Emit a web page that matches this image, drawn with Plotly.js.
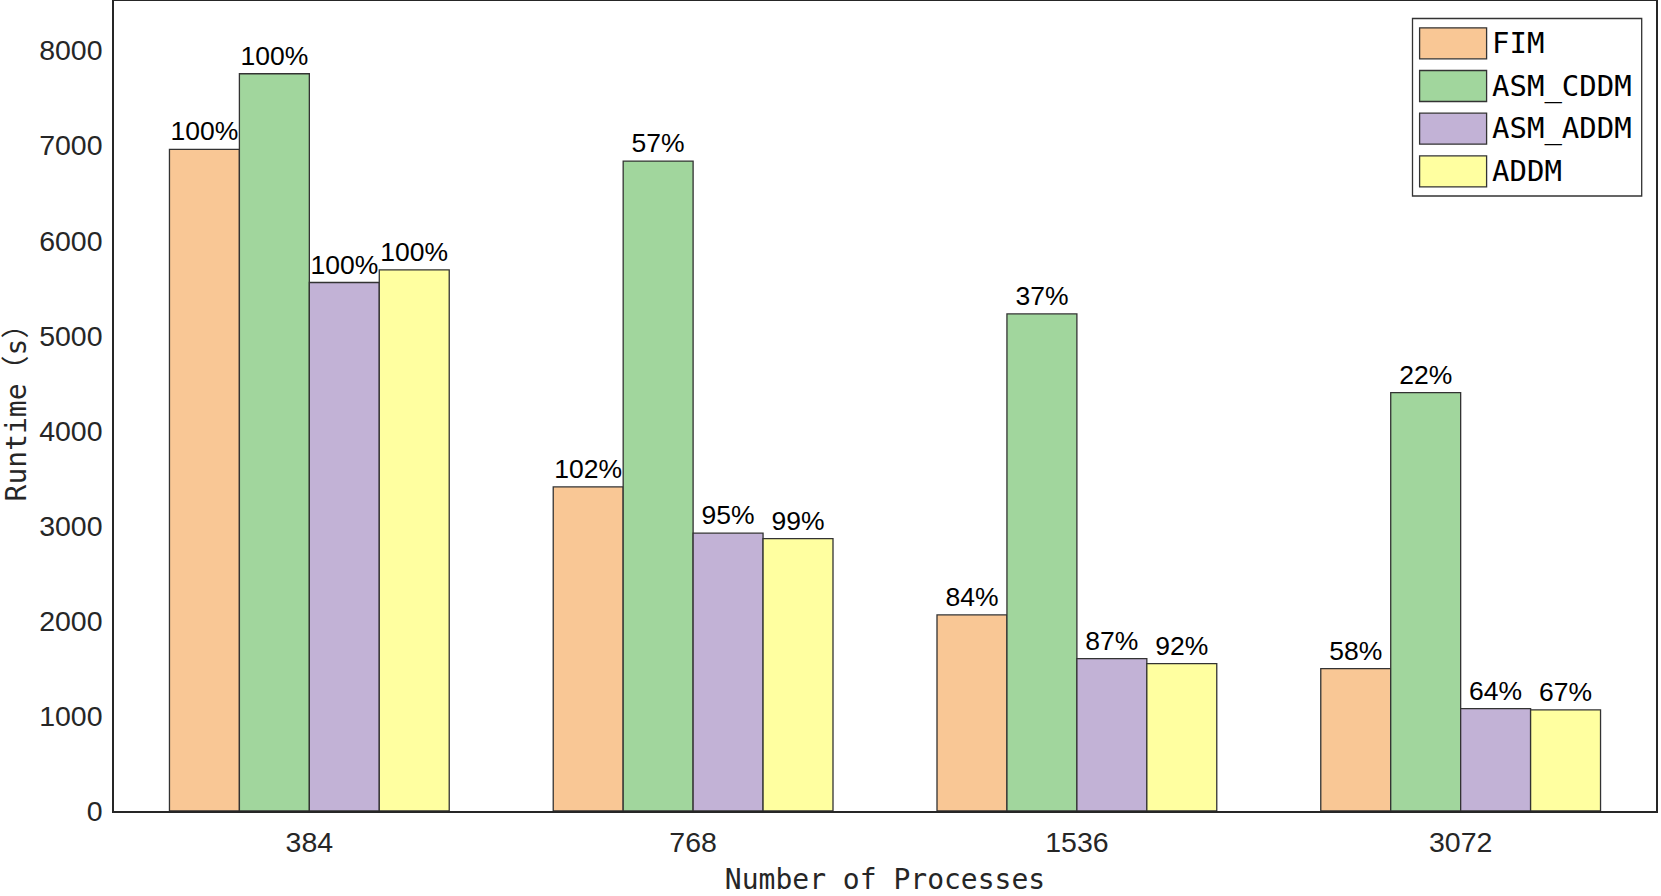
<!DOCTYPE html>
<html>
<head>
<meta charset="utf-8">
<script src="https://cdn.plot.ly/plotly-3.0.1.min.js"></script>
<style>html,body{margin:0;padding:0;background:#fff;}#chart{width:1661px;height:896px;}</style>
</head>
<body>
<div id="chart"></div>
<script>
const categories = ['384', '768', '1536', '3072'];
const seriesNames = ['FIM', 'ASM_CDDM', 'ASM_ADDM', 'ADDM'];
const fim = [6960, 3409, 2062, 1497];
const asmCddm = [7755, 6836, 5229, 4401];
const asmAddm = [5559, 2922, 1602, 1076];
const addm = [5692, 2865, 1550, 1063];
const fimLabels = ['100%', '102%', '84%', '58%'];
const asmCddmLabels = ['100%', '57%', '37%', '22%'];
const asmAddmLabels = ['100%', '95%', '87%', '64%'];
const addmLabels = ['100%', '99%', '92%', '67%'];
const seriesColors = ['#F9C795', '#A1D69D', '#C2B2D6', '#FFFFA0'];
const yTickVals = [0, 1000, 2000, 3000, 4000, 5000, 6000, 7000, 8000];

const values = [fim, asmCddm, asmAddm, addm];
const labels = [fimLabels, asmCddmLabels, asmAddmLabels, addmLabels];

const W = 1661, H = 896;
const M = {l: 114, r: 5, t: 1, b: 85};
const PW = W - M.l - M.r, PH = H - M.t - M.b;
const px2x = X => (X - M.l) / PW;
const px2y = Y => (H - M.b - Y) / PH;

const traces = seriesNames.map((name, i) => ({
  type: 'bar',
  name: name,
  x: categories,
  y: values[i],
  text: labels[i],
  textposition: 'outside',
  constraintext: 'none',
  cliponaxis: false,
  textfont: {family: 'Liberation Sans, Arial, sans-serif', size: 26.5, color: '#000'},
  marker: {color: seriesColors[i], line: {color: '#333333', width: 1.3}},
  hoverinfo: 'x+y+name'
}));

const shapes = [];
const annotations = [];
// legend box
shapes.push({type: 'rect', xref: 'paper', yref: 'paper',
  x0: px2x(1412.5), x1: px2x(1641.7), y0: px2y(196), y1: px2y(18.5),
  line: {color: '#333333', width: 1.3}, fillcolor: '#ffffff', layer: 'above'});
seriesNames.forEach((name, i) => {
  const cy = 43.3 + i * 42.7;
  shapes.push({type: 'rect', xref: 'paper', yref: 'paper',
    x0: px2x(1419.6), x1: px2x(1486.6), y0: px2y(cy + 15.5), y1: px2y(cy - 15.5),
    line: {color: '#333333', width: 1.3}, fillcolor: seriesColors[i], layer: 'above'});
  annotations.push({xref: 'paper', yref: 'paper', x: px2x(1490), y: px2y(cy),
    xanchor: 'left', yanchor: 'middle', showarrow: false, text: name,
    font: {family: 'DejaVu Sans Mono, monospace', size: 29, color: '#000'}});
});

const layout = {
  width: W, height: H,
  margin: M,
  paper_bgcolor: '#fff', plot_bgcolor: '#fff',
  showlegend: false,
  barmode: 'group',
  bargap: 0.271,
  bargroupgap: 0,
  xaxis: {
    type: 'category',
    range: [-0.509, 3.509],
    showline: true, mirror: true, linecolor: '#262626', linewidth: 1.5,
    showgrid: false, zeroline: false, ticks: '',
    ticklabelstandoff: 5,
    tickfont: {family: 'Liberation Sans, Arial, sans-serif', size: 28.5, color: '#262626'},
    title: {text: 'Number of Processes', standoff: 14,
      font: {family: 'DejaVu Sans Mono, Noto Sans CJK SC, monospace', size: 28, color: '#262626'}}
  },
  yaxis: {
    range: [0, 8520],
    tickvals: yTickVals,
    showline: true, mirror: true, linecolor: '#262626', linewidth: 1.5,
    showgrid: false, zeroline: false, ticks: '',
    ticklabelstandoff: 4,
    tickfont: {family: 'Liberation Sans, Arial, sans-serif', size: 28.5, color: '#262626'},
    title: {text: 'Runtime（s）', standoff: 8,
      font: {family: 'DejaVu Sans Mono, Noto Sans CJK SC, monospace', size: 28, color: '#262626'}}
  },
  shapes: shapes,
  annotations: annotations
};

Plotly.newPlot('chart', traces, layout, {displayModeBar: false, responsive: false});
</script>
</body>
</html>
